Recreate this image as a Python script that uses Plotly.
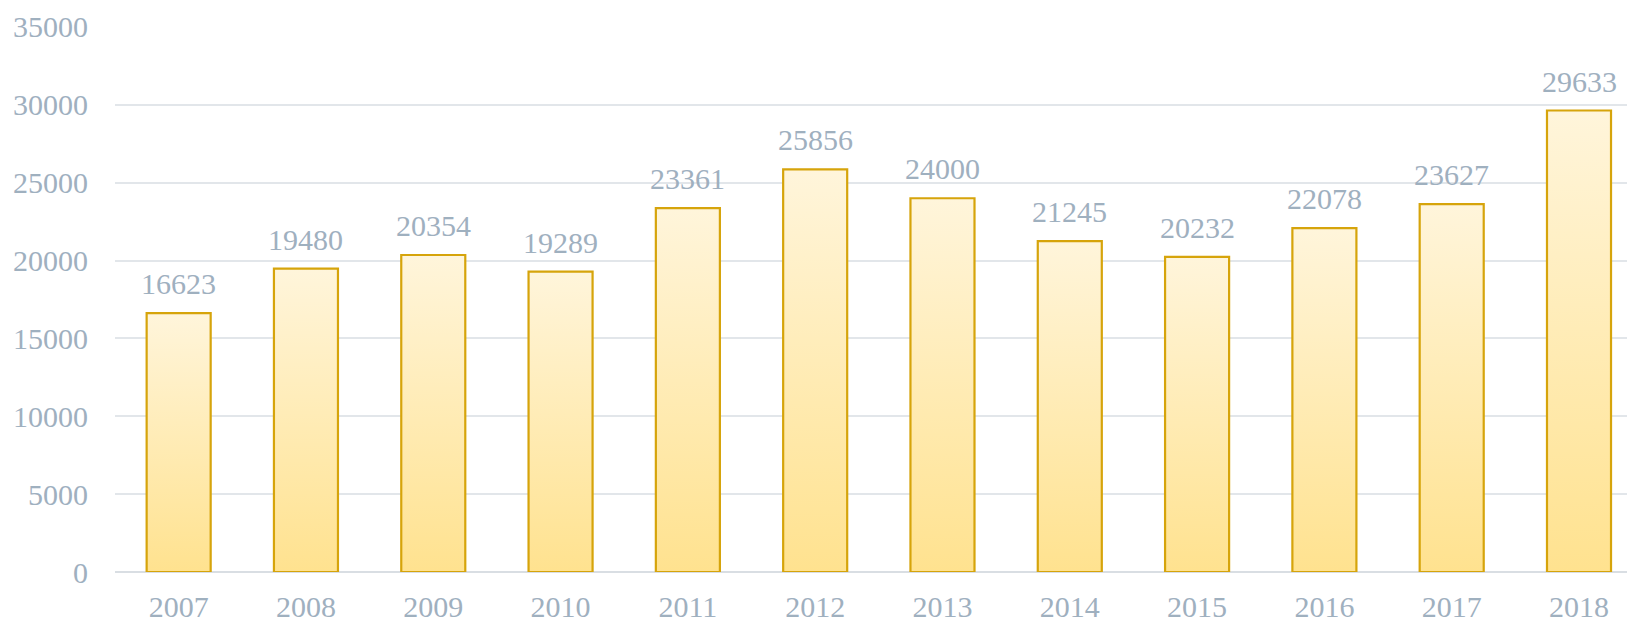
import plotly.graph_objects as go

years = [2007, 2008, 2009, 2010, 2011, 2012, 2013, 2014, 2015, 2016, 2017, 2018]
values = [16623, 19480, 20354, 19289, 23361, 25856, 24000, 21245, 20232, 22078, 23627, 29633]
y_ticks = [0, 5000, 10000, 15000, 20000, 25000, 30000, 35000]

BAR_W = 0.503
TEXT_COLOR = "#9FB0BF"
FONT = "Liberation Serif"
FS = 30

fig = go.Figure()
for yr, v in zip(years, values):
    x0, x1 = yr - BAR_W / 2, yr + BAR_W / 2
    fig.add_trace(go.Scatter(
        x=[x0, x0, x1, x1, x0], y=[0, v, v, 0, 0],
        mode="lines", fill="toself",
        fillgradient=dict(type="vertical",
                          colorscale=[[0, "#FFE28F"], [1, "#FFF5DB"]]),
        line=dict(color="#D6A40B", width=2.2),
        hoverinfo="skip", showlegend=False,
    ))
    fig.add_annotation(x=yr, y=v, text=str(v), showarrow=False,
                       yanchor="bottom", yshift=11,
                       font=dict(family=FONT, size=FS, color=TEXT_COLOR))

fig.update_layout(
    width=1627, height=622,
    margin=dict(l=115, r=0, t=26, b=50),
    paper_bgcolor="white", plot_bgcolor="white",
    font=dict(family=FONT, size=FS, color=TEXT_COLOR),
    showlegend=False,
)
fig.update_xaxes(
    range=[2006.5, 2018.377], tickvals=years, ticktext=[str(y) for y in years],
    showgrid=False, zeroline=False, showline=False,
    ticklabelstandoff=14,
)
fig.update_yaxes(
    range=[0, 35060], tickvals=y_ticks, ticktext=[str(t) for t in y_ticks],
    showgrid=True, gridcolor="#E2E6EA", gridwidth=1.5,
    zeroline=True, zerolinecolor="#D9DEE3", zerolinewidth=1.5,
    ticklabelstandoff=26,
)
fig.write_html("out.html", config={"displayModeBar": False},
               post_script="document.body.style.margin='0px';")
